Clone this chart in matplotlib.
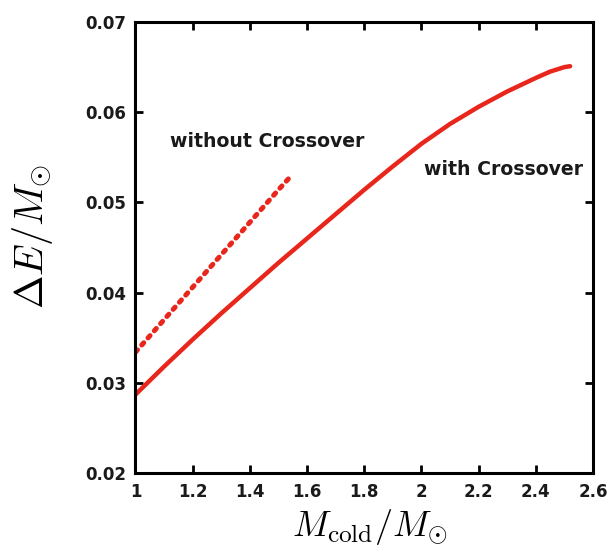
import numpy as np
import matplotlib.pyplot as plt

plt.rcParams['font.family'] = ['DejaVu Sans']
plt.rcParams['mathtext.fontset'] = 'cm'

# with Crossover (solid)
m_with = [1.0, 1.1, 1.2, 1.3, 1.4, 1.5, 1.6, 1.7, 1.8, 1.9, 2.0, 2.1, 2.2, 2.3,
          2.4, 2.45, 2.5, 2.52]
e_with = [0.0287, 0.0318, 0.0348, 0.0377, 0.0405, 0.0433, 0.0460, 0.0487, 0.0514, 0.0540,
          0.0565, 0.0587, 0.0606, 0.0623, 0.0638, 0.0645, 0.0650, 0.0651]

# without Crossover (dotted)
m_without = [1.0, 1.1, 1.2, 1.3, 1.4, 1.5, 1.54]
e_without = [0.0334, 0.0370, 0.0406, 0.0442, 0.0478, 0.0514, 0.0528]

xticks = [1, 1.2, 1.4, 1.6, 1.8, 2, 2.2, 2.4, 2.6]
xtick_labels = ['1', '1.2', '1.4', '1.6', '1.8', '2', '2.2', '2.4', '2.6']
yticks = [0.02, 0.03, 0.04, 0.05, 0.06, 0.07]
ytick_labels = ['0.02', '0.03', '0.04', '0.05', '0.06', '0.07']

red = '#e8261c'

fig = plt.figure(figsize=(6.12, 5.5), dpi=100)
ax = fig.add_axes([0.2214, 0.14, 0.7476, 0.82])

ax.plot(m_with, e_with, '-', color=red, lw=3.2, solid_capstyle='round',
        solid_joinstyle='round')
ax.plot(m_without, e_without, color=red, lw=3.6, linestyle=(0, (0.6, 1.3)),
        dash_capstyle='round')

ax.text(1.12, 0.0567, 'without Crossover', fontsize=13.6, fontweight='bold',
        va='center', ha='left', color='#1a1a1a')
ax.text(2.01, 0.0537, 'with Crossover', fontsize=13.6, fontweight='bold',
        va='center', ha='left', color='#1a1a1a')

ax.set_xlim(1, 2.6)
ax.set_ylim(0.02, 0.07)
ax.set_xticks(xticks)
ax.set_xticklabels(xtick_labels, fontweight='bold')
ax.set_yticks(yticks)
ax.set_yticklabels(ytick_labels, fontweight='bold')
ax.tick_params(direction='in', top=True, right=True, length=6, width=2,
               labelsize=12, pad=7, labelcolor='#1a1a1a')
for s in ax.spines.values():
    s.set_linewidth(2.2)

ax.set_xlabel(r'$M_{\rm cold}/M_{\odot}$', fontsize=26)
ax.xaxis.set_label_coords(0.5126, -0.075)
ax.set_ylabel(r'$\Delta E/M_{\odot}$', fontsize=29)
ax.yaxis.set_label_coords(-0.176, 0.524)

fig.savefig('out.png', dpi=100)
